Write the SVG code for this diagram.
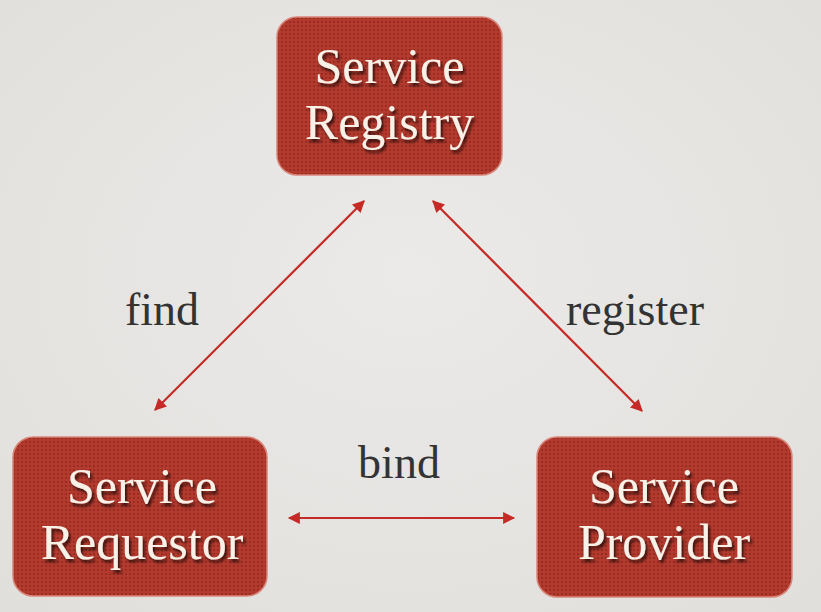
<svg xmlns="http://www.w3.org/2000/svg" width="821" height="612" viewBox="0 0 821 612">
<defs>
<radialGradient id="bg" cx="0.5" cy="0.45" r="0.75">
<stop offset="0" stop-color="#ebeae8"/>
<stop offset="1" stop-color="#e0dfdc"/>
</radialGradient>
<pattern id="dots" width="4" height="4" patternUnits="userSpaceOnUse">
<rect width="4" height="4" fill="#b53a2e"/>
<circle cx="2" cy="2" r="1.1" fill="#8e2a22"/>
</pattern>
<filter id="shadow" x="-10%" y="-10%" width="130%" height="130%">
<feGaussianBlur in="SourceAlpha" stdDeviation="1.5"/>
<feOffset dx="2" dy="3" result="b"/>
<feComponentTransfer><feFuncA type="linear" slope="0.7"/></feComponentTransfer>
<feMerge><feMergeNode/><feMergeNode in="SourceGraphic"/></feMerge>
</filter>
<marker id="ah" viewBox="0 0 10 10" refX="9" refY="5" markerWidth="6" markerHeight="5.5" orient="auto-start-reverse" markerUnits="strokeWidth">
<path d="M0,0 L10,5 L0,10 z" fill="#c62a26"/>
</marker>
</defs>
<style>
.box{fill:url(#dots);stroke:#d9857a;stroke-width:1.5}
.nt{font-family:"Liberation Serif",serif;font-size:50px;fill:#f8f1e8;text-anchor:middle;filter:url(#shadow)}
.lbl{font-family:"Liberation Serif",serif;font-size:46px;fill:#333333;text-anchor:middle}
.con{stroke:#c62a26;stroke-width:2.2;fill:none;marker-start:url(#ah);marker-end:url(#ah)}
</style>
<rect width="821" height="612" fill="url(#bg)"/>
<g id="connectors">
<line class="con" x1="155" y1="410" x2="364" y2="201"/>
<line class="con" x1="433" y1="201" x2="642" y2="411"/>
<line class="con" x1="289" y1="518" x2="514" y2="518"/>
</g>
<g id="registry">
<rect class="box" x="277" y="17" width="225" height="158" rx="20"/>
<text class="nt" x="389.5" y="83">Service</text>
<text class="nt" x="389.5" y="139">Registry</text>
</g>
<g id="requestor">
<rect class="box" x="13" y="437" width="254" height="159" rx="20"/>
<text class="nt" x="142" y="503">Service</text>
<text class="nt" x="142" y="559">Requestor</text>
</g>
<g id="provider">
<rect class="box" x="537" y="437" width="255" height="160" rx="20"/>
<text class="nt" x="664" y="503">Service</text>
<text class="nt" x="664" y="559">Provider</text>
</g>
<g id="labels">
<text class="lbl" x="162" y="325">find</text>
<text class="lbl" x="635" y="325">register</text>
<text class="lbl" x="399" y="478">bind</text>
</g>
</svg>
